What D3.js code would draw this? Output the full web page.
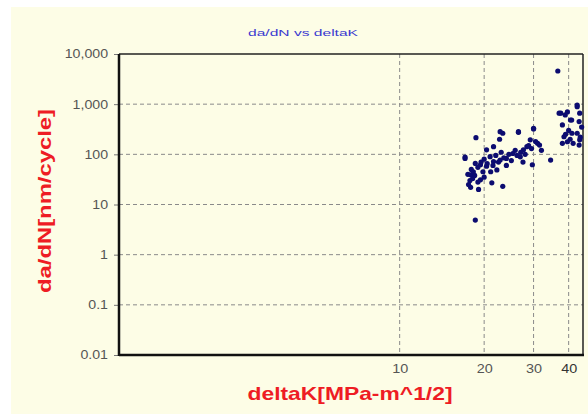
<!DOCTYPE html>
<html>
<head>
<meta charset="utf-8">
<script src="https://cdn.jsdelivr.net/npm/d3@7"></script>
<style>
  body { margin: 0; background: #fff; }
  svg { display: block; font-family: "Liberation Sans", Arial, sans-serif; }
</style>
</head>
<body>
<script>
// data
var deltaK = [18.7, 23.3, 26.5, 30, 22.7, 29.2, 31, 20.4, 21.6, 17.1, 18.6, 19.4, 20.4, 21.6, 22.8, 24, 25.3, 26.9, 27.6, 28.4,
  29.7, 34.5, 17.9, 18.2, 17.9, 19.1, 21.3, 23.3, 18.6, 21.1, 22.2, 19.8, 19.4, 18.3, 22.8, 26.5, 30, 31.5, 17.1,
  17.5, 17.8, 18.0, 18.5, 19.0, 19.5, 20.0, 20.5, 21.0, 21.5, 22.0, 22.5, 23.0, 23.5, 24.5, 25.0, 25.8, 26.2, 27.0, 28.0,
  28.8, 29.5, 30.5, 20.0, 19.0, 17.6, 24.0, 27.5, 32.0,
  36.6, 37.5, 38.9, 38.0, 40.6, 43.8, 42.9, 41.1, 38.5, 39.6, 38.0, 42.9, 43.8, 41.5, 43.6, 42.9, 39.6, 37.0, 41.0, 43.6,
  40.0, 44.5, 39.0, 44.0, 40.5];
var dadN = [215, 263, 275, 320, 200, 195, 166, 123, 142, 83, 66, 62, 58, 72, 77, 83, 104, 89, 123, 142,
  62, 77, 39, 33, 22, 20, 27, 23, 4.9, 45, 49, 45, 31, 45, 283, 283, 330, 153, 88,
  40, 30, 50, 38, 55, 70, 80, 65, 90, 60, 95, 70, 110, 85, 100, 75, 120, 95, 110, 100,
  150, 130, 180, 35, 28, 25, 60, 70, 120,
  4580, 660, 610, 385, 484, 660, 890, 263, 224, 178, 166, 263, 195, 166, 153, 960, 700, 660, 484, 450,
  300, 350, 250, 220, 200];
var yTicks = [0.01, 0.1, 1, 10, 100, 1000, 10000];
var yTickLabels = ["0.01", "0.1", "1", "10", "100", "1,000", "10,000"];
var xTicks = [10, 20, 30, 40];

var W = 588, H = 414;
var margin = {top: 54, right: 5, bottom: 59, left: 119};
var width = W - margin.left - margin.right,
    height = H - margin.top - margin.bottom;

var svg = d3.select("body").append("svg")
  .attr("width", W).attr("height", H);

// cream background, white strip top/left
svg.append("rect").attr("x", 11).attr("y", 7).attr("width", W - 11).attr("height", H - 7)
  .attr("fill", "#fdfde6");

var x = d3.scaleLog().domain([1, 45]).range([0, width]);
var y = d3.scaleLog().domain([0.01, 10000]).range([height, 0]);

var g = svg.append("g").attr("transform", "translate(" + margin.left + "," + margin.top + ")");

// stretch text horizontally (the picture is wider than normal)
function stretch(sel, k) {
  sel.each(function() {
    var w = this.getComputedTextLength();
    d3.select(this).attr("textLength", w * k).attr("lengthAdjust", "spacingAndGlyphs");
  });
}

// grid
g.selectAll(".gy").data(yTicks.slice(1, -1)).enter().append("line")
  .attr("x1", 0).attr("x2", width)
  .attr("y1", function(d) { return y(d); }).attr("y2", function(d) { return y(d); })
  .attr("stroke", "#8a8a8a").attr("stroke-dasharray", "4,3");
g.selectAll(".gx").data(xTicks).enter().append("line")
  .attr("y1", 0).attr("y2", height)
  .attr("x1", function(d) { return x(d); }).attr("x2", function(d) { return x(d); })
  .attr("stroke", "#8a8a8a").attr("stroke-dasharray", "4,3");

// axes
var yAxis = d3.axisLeft(y).tickValues(yTicks)
  .tickFormat(function(d, i) { return yTickLabels[i]; })
  .tickSize(5).tickPadding(6);
var yg = g.append("g").call(yAxis);
yg.select(".domain").remove();
yg.selectAll("line").attr("stroke", "#777");
yg.selectAll("text").attr("fill", "#555").style("font-size", "12px").call(stretch, 1.18);

var xAxis = d3.axisBottom(x).tickValues(xTicks).tickFormat(d3.format("d")).tickSize(0).tickPadding(9);
var xg = g.append("g").attr("transform", "translate(0," + height + ")").call(xAxis);
xg.select(".domain").remove();
xg.selectAll("text").attr("fill", "#555").style("font-size", "12px").call(stretch, 1.2);
xg.selectAll("text").filter(function(d) { return d === 40; }).attr("fill", "#333");

// frame
g.append("line").attr("x1", 0).attr("x2", width).attr("y1", 0).attr("y2", 0)
  .attr("stroke", "#222").attr("stroke-width", 1.5);
g.append("line").attr("x1", width).attr("x2", width).attr("y1", 0).attr("y2", height)
  .attr("stroke", "#222").attr("stroke-width", 1.5);
g.append("line").attr("x1", 0).attr("x2", width + 1).attr("y1", height).attr("y2", height)
  .attr("stroke", "#111").attr("stroke-width", 2.5);
g.append("line").attr("x1", 0).attr("x2", 0).attr("y1", 0).attr("y2", height + 1)
  .attr("stroke", "#111").attr("stroke-width", 2.5);

// points
g.append("g").selectAll("circle").data(deltaK).enter().append("circle")
  .attr("cx", function(d) { return x(d); })
  .attr("cy", function(d, i) { return y(dadN[i]); })
  .attr("r", 2.6)
  .attr("fill", "#0c0c70");

// title and axis labels
svg.append("text").attr("x", 303).attr("y", 36).attr("text-anchor", "middle")
  .attr("fill", "#3a3ad0").style("font-size", "9px").text("da/dN vs deltaK")
  .attr("textLength", 110).attr("lengthAdjust", "spacingAndGlyphs");

svg.append("text").attr("transform", "translate(51,201) rotate(-90)").attr("text-anchor", "middle")
  .attr("fill", "#ee1c24").style("font-size", "18px").style("font-weight", "bold").text("da/dN[nm/cycle]")
  .attr("textLength", 184).attr("lengthAdjust", "spacingAndGlyphs");

svg.append("text").attr("x", 350).attr("y", 400).attr("text-anchor", "middle")
  .attr("fill", "#ee1c24").style("font-size", "19px").style("font-weight", "bold").text("deltaK[MPa-m^1/2]")
  .attr("textLength", 205).attr("lengthAdjust", "spacingAndGlyphs");
</script>
</body>
</html>
